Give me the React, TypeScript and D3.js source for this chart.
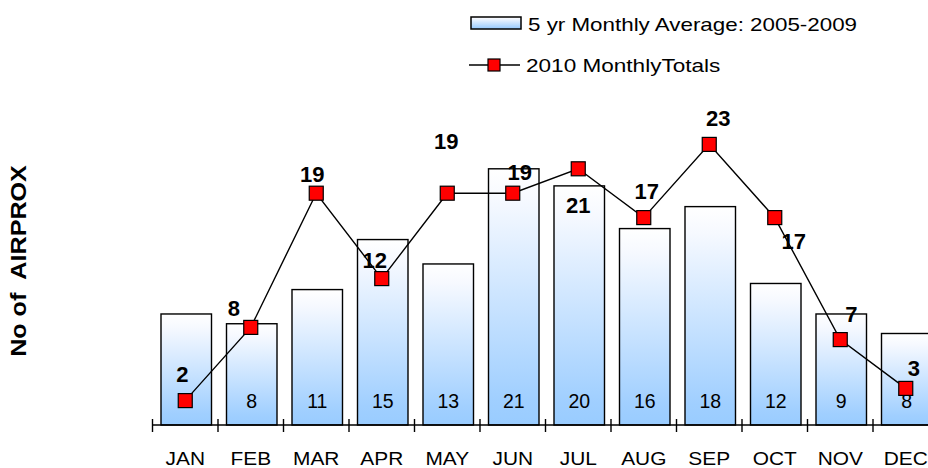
import React from "react";
import * as d3 from "d3";

const months = ["JAN", "FEB", "MAR", "APR", "MAY", "JUN", "JUL", "AUG", "SEP", "OCT", "NOV", "DEC"];
const avg0509 = [9.1, 8.3, 11.1, 15.2, 13.2, 21.0, 19.6, 16.1, 17.9, 11.6, 9.1, 7.5];
const totals2010 = [2, 8, 19, 12, 19, 19, 21, 17, 23, 17, 7, 3];
const seriesNames = ["5 yr Monthly Average: 2005-2009", "2010 MonthlyTotals"];
const yTitle = "No of  AIRPROX";
// label placement offsets (dx, dy) from each 2010 marker
const labelOffsets: [number, number][] = [
  [-3, -27], [-17, -19], [-4, -19], [-7, -19], [-1, -52], [7, -21],
  [0, 36], [3, -27], [9, -26], [19, 23], [11, -26], [8, -20],
];

const W = 928;
const H = 468;
const FONT = "'Liberation Sans', Arial, sans-serif";

export default function App() {
  const x = d3.scaleBand<string>().domain(months).range([152.5, 938.5]).padding(0);
  const y = d3.scaleLinear().domain([0, 25]).range([425, 120]);
  const step = x.step();
  const barOff = 8.5;
  const barW = 50.5;
  const cx = (m: string) => (x(m) as number) + step / 2;

  const line = d3
    .line<number>()
    .x((_, i) => cx(months[i]))
    .y((d) => y(d));

  const ticks = d3.range(months.length + 1).map((i) => 152.5 + i * step);
  const fmt = d3.format(".0f");

  return (
    <svg
      width={W}
      height={H}
      style={{ position: "absolute", left: 0, top: 0, background: "#fff" }}
      fontFamily={FONT}
    >
      <defs>
        <linearGradient id="barGrad" x1="0" y1="0" x2="0" y2="1">
          <stop offset="0" stopColor="#ffffff" />
          <stop offset="0.12" stopColor="#f6f9ff" />
          <stop offset="0.9" stopColor="#a0cfff" />
          <stop offset="1" stopColor="#99ccff" />
        </linearGradient>
      </defs>
      <rect width={W} height={H} fill="#fff" />

      {/* legend */}
      <rect x={471} y={17} width={50} height={12} fill="url(#barGrad)" stroke="#000" strokeWidth={1.5} />
      <text transform="translate(528,30.5) scale(1.21,1)" fontSize={18.5}>
        {seriesNames[0]}
      </text>
      <line x1={469} x2={520} y1={65} y2={65} stroke="#000" strokeWidth={1.5} />
      <rect x={488} y={59} width={12} height={12} fill="#ff0000" stroke="#000" strokeWidth={1.2} />
      <text transform="translate(526,71.5) scale(1.22,1)" fontSize={18.5}>
        {seriesNames[1]}
      </text>

      {/* y title */}
      <text
        transform="translate(26,261) rotate(-90) scale(1.17,1)"
        textAnchor="middle"
        fontWeight="bold"
        fontSize={21.5}
        style={{ whiteSpace: "pre" }}
      >
        {yTitle}
      </text>

      {/* bars */}
      {avg0509.map((v, i) => (
        <rect
          key={"b" + i}
          x={(x(months[i]) as number) + barOff}
          y={y(v)}
          width={barW}
          height={y(0) - y(v)}
          fill="url(#barGrad)"
          stroke="#000"
          strokeWidth={1.4}
        />
      ))}
      {avg0509.map((v, i) => (
        <text
          key={"bl" + i}
          x={(x(months[i]) as number) + barOff + barW / 2}
          y={y(0) - 17.5}
          textAnchor="middle"
          fontSize={19.5}
        >
          {fmt(v)}
        </text>
      ))}

      {/* axis */}
      <line x1={152.5} x2={W} y1={y(0)} y2={y(0)} stroke="#000" strokeWidth={1.6} />
      {ticks.map((t, i) => (
        <line key={"t" + i} x1={t} x2={t} y1={y(0) - 6} y2={y(0) + 7} stroke="#000" strokeWidth={1.4} />
      ))}
      {months.map((m) => (
        <text
          key={m}
          transform={`translate(${cx(m)},465) scale(1.13,1)`}
          textAnchor="middle"
          fontSize={18.5}
        >
          {m}
        </text>
      ))}

      {/* 2010 line */}
      <path d={line(totals2010) || ""} fill="none" stroke="#000" strokeWidth={1.4} />
      {totals2010.map((v, i) => (
        <rect
          key={"m" + i}
          x={cx(months[i]) - 7}
          y={y(v) - 7}
          width={14}
          height={14}
          fill="#ff0000"
          stroke="#000"
          strokeWidth={1.2}
        />
      ))}
      {totals2010.map((v, i) => (
        <text
          key={"ml" + i}
          x={cx(months[i]) + labelOffsets[i][0]}
          y={y(v) + labelOffsets[i][1]}
          dy="0.36em"
          textAnchor="middle"
          fontSize={22}
          fontWeight="bold"
        >
          {v}
        </text>
      ))}
    </svg>
  );
}
